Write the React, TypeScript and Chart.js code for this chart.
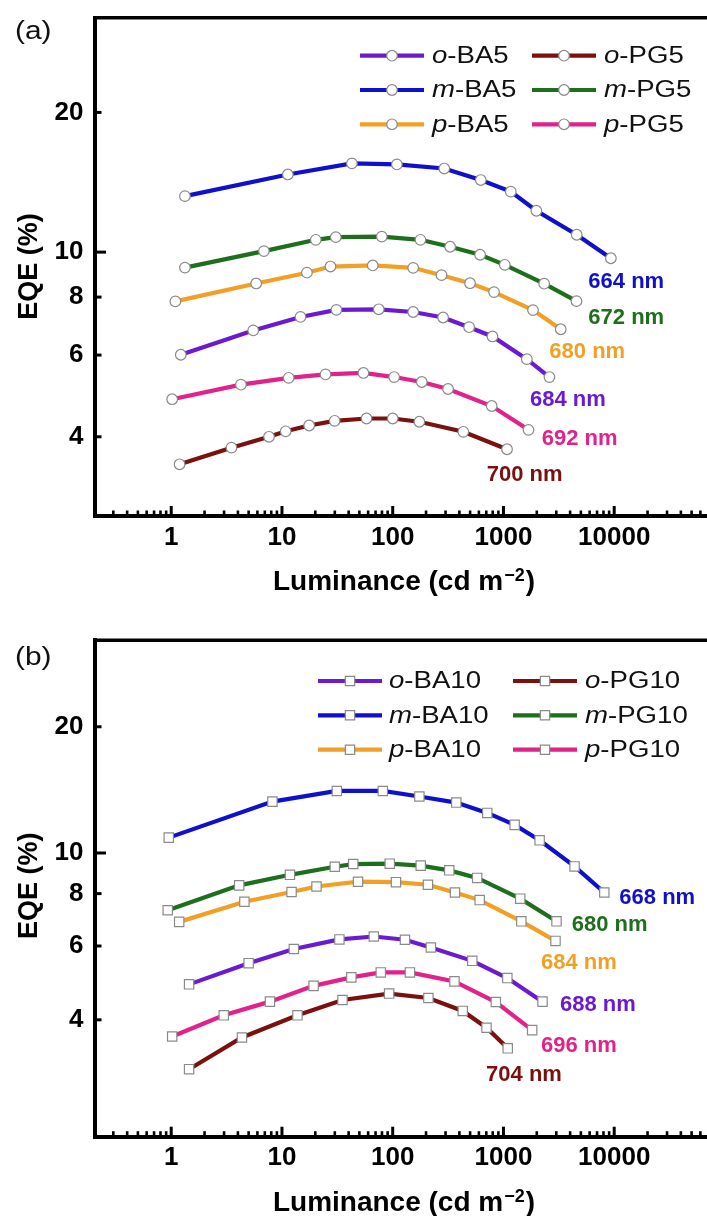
import React, { useEffect, useRef } from "react";
import { Chart, registerables } from "chart.js";

Chart.register(...registerables);

// ---------- tick values ----------
const X_TICK_VALUES = [1, 10, 100, 1000, 10000];
const Y_TICK_VALUES = [4, 6, 8, 10, 20];
const X_MINOR_MULTIPLES = [2, 3, 4, 5, 6, 7, 8, 9];
const X_MINOR_DECADES = [0.1, 1, 10, 100, 1000, 10000];

// ---------- panel (a) data: luminance (cd m^-2) / EQE (%) ----------
const A_oBA5_L = [1.22, 5.5, 14.7, 31.0, 74.8, 153, 285, 490, 796, 1626, 2602];
const A_oBA5_E = [6.01, 6.78, 7.25, 7.51, 7.53, 7.43, 7.23, 6.89, 6.58, 5.88, 5.38];
const A_mBA5_L = [1.33, 11.3, 42.8, 109, 292, 624, 1164, 1982, 4585, 9330];
const A_mBA5_E = [13.2, 14.7, 15.53, 15.45, 15.14, 14.3, 13.5, 12.28, 10.9, 9.7];
const A_pBA5_L = [1.09, 5.85, 16.8, 27.4, 66, 153, 276, 499, 822, 1849, 3289];
const A_pBA5_E = [7.83, 8.56, 9.03, 9.31, 9.36, 9.25, 8.92, 8.57, 8.2, 7.5, 6.82];
const A_oPG5_L = [1.19, 3.5, 7.64, 10.8, 17.6, 29.9, 58, 100, 174, 434, 1077];
const A_oPG5_E = [3.49, 3.79, 4.0, 4.11, 4.23, 4.33, 4.38, 4.38, 4.31, 4.1, 3.76];
const A_mPG5_L = [1.33, 6.87, 20.2, 30.6, 79.7, 178, 330, 615, 1028, 2330, 4565];
const A_mPG5_E = [9.26, 10.05, 10.63, 10.77, 10.8, 10.63, 10.27, 9.87, 9.39, 8.55, 7.84];
const A_pPG5_L = [1.02, 4.26, 11.5, 24.7, 54.4, 103, 183, 316, 783, 1683];
const A_pPG5_E = [4.82, 5.18, 5.36, 5.45, 5.49, 5.38, 5.25, 5.07, 4.66, 4.14];

const A_NAMES = ["o-BA5", "m-BA5", "p-BA5", "o-PG5", "m-PG5", "p-PG5"];
const A_WAVELENGTHS = ["684 nm", "664 nm", "680 nm", "700 nm", "672 nm", "692 nm"];
const A_WL_LUM = [1738, 5840, 2596, 707, 5840, 2218];
const A_WL_EQE = [4.8, 8.62, 6.09, 3.31, 7.21, 3.96];

// ---------- panel (b) data ----------
const B_oBA10_L = [1.45, 5.0, 12.8, 33, 67.5, 129, 221, 523, 1084, 2253];
const B_oBA10_E = [4.86, 5.46, 5.9, 6.22, 6.32, 6.21, 5.95, 5.53, 5.03, 4.42];
const B_mBA10_L = [0.95, 8.2, 31.3, 81.4, 174, 375, 714, 1262, 2121, 4386, 8140];
const B_mBA10_E = [10.88, 13.26, 14.06, 14.06, 13.64, 13.19, 12.46, 11.67, 10.72, 9.29, 8.05];
const B_pBA10_L = [1.18, 4.58, 12.2, 20.5, 48.6, 107, 208, 365, 610, 1450, 2950];
const B_pBA10_E = [6.85, 7.65, 8.07, 8.32, 8.54, 8.52, 8.4, 8.05, 7.72, 6.87, 6.17];
const B_oPG10_L = [1.45, 4.35, 13.8, 35.2, 92.8, 210, 429, 703, 1093];
const B_oPG10_E = [3.05, 3.63, 4.1, 4.46, 4.62, 4.51, 4.2, 3.83, 3.42];
const B_mPG10_L = [0.93, 4.11, 11.8, 30, 44, 94, 179, 324, 579, 1417, 3013];
const B_mPG10_E = [7.3, 8.37, 8.87, 9.27, 9.41, 9.43, 9.33, 9.09, 8.72, 7.78, 6.87];
const B_pPG10_L = [1.02, 2.98, 7.79, 19.3, 42.3, 78, 143, 361, 853, 1816];
const B_pPG10_E = [3.65, 4.1, 4.42, 4.82, 5.05, 5.19, 5.19, 4.94, 4.41, 3.78];

const B_NAMES = ["o-BA10", "m-BA10", "p-BA10", "o-PG10", "m-PG10", "p-PG10"];
const B_WAVELENGTHS = ["688 nm", "668 nm", "684 nm", "704 nm", "680 nm", "696 nm"];
const B_WL_LUM = [3243, 11120, 2184, 697, 4132, 2184];
const B_WL_EQE = [4.33, 7.83, 5.48, 2.95, 6.72, 3.47];

// ---------- styles ----------
const SERIES_COLORS = ["#6A1BCF", "#1010CC", "#F2A025", "#7A1010", "#1E6E1E", "#E2218B"];
const FONT = "'Liberation Sans', Arial, Helvetica, sans-serif";

type PanelCfg = {
  letter: string;
  names: string[];
  lums: number[][];
  eqes: number[][];
  wl: string[];
  wlLum: number[];
  wlEqe: number[];
  pointStyle: "circle" | "rect";
  pointRadius: number;
  padTop: number;
  xAxisH: number;
  yMin: number;
  yMax: number;
  legendRows: number[];
  legendCols: { x0: number; x1: number; tx: number }[];
  letterY: number;
  yTitleY: number;
  xTitleBase: number;
};

const PANEL_A: PanelCfg = {
  letter: "(a)",
  names: A_NAMES,
  lums: [A_oBA5_L, A_mBA5_L, A_pBA5_L, A_oPG5_L, A_mPG5_L, A_pPG5_L],
  eqes: [A_oBA5_E, A_mBA5_E, A_pBA5_E, A_oPG5_E, A_mPG5_E, A_pPG5_E],
  wl: A_WAVELENGTHS,
  wlLum: A_WL_LUM,
  wlEqe: A_WL_EQE,
  pointStyle: "circle",
  pointRadius: 5.3,
  padTop: 17.7,
  xAxisH: 92,
  yMin: 2.7,
  yMax: 32,
  legendRows: [55.7, 90, 124.3],
  legendCols: [
    { x0: 360, x1: 424, tx: 432 },
    { x0: 532, x1: 596, tx: 604 },
  ],
  letterY: 31.7,
  yTitleY: 266.5,
  xTitleBase: 590,
};

const PANEL_B: PanelCfg = {
  letter: "(b)",
  names: B_NAMES,
  lums: [B_oBA10_L, B_mBA10_L, B_pBA10_L, B_oPG10_L, B_mPG10_L, B_pPG10_L],
  eqes: [B_oBA10_E, B_mBA10_E, B_pBA10_E, B_oPG10_E, B_mPG10_E, B_pPG10_E],
  wl: B_WAVELENGTHS,
  wlLum: B_WL_LUM,
  wlEqe: B_WL_EQE,
  pointStyle: "rect",
  pointRadius: 6.6,
  padTop: 32.3,
  xAxisH: 79.3,
  yMin: 2.105,
  yMax: 32.16,
  legendRows: [73, 107.3, 141.7],
  legendCols: [
    { x0: 318, x1: 382, tx: 389 },
    { x0: 513, x1: 577, tx: 585 },
  ],
  letterY: 50,
  yTitleY: 277.8,
  xTitleBase: 602.7,
};

const CANVAS_W = 707;
const CANVAS_H = 608;
const AXIS_LEFT = 95;

function drawStretched(ctx: CanvasRenderingContext2D, parts: { t: string; f: string }[], x: number, y: number, sx: number) {
  ctx.save();
  ctx.translate(x, y);
  ctx.scale(sx, 1);
  let cx = 0;
  for (const p of parts) {
    ctx.font = p.f;
    ctx.fillText(p.t, cx, 0);
    cx += ctx.measureText(p.t).width;
  }
  ctx.restore();
}

function drawMarker(ctx: CanvasRenderingContext2D, style: string, x: number, y: number, r: number) {
  ctx.beginPath();
  if (style === "circle") {
    ctx.arc(x, y, r, 0, Math.PI * 2);
  } else {
    const s = r * Math.SQRT1_2;
    ctx.rect(x - s, y - s, 2 * s, 2 * s);
  }
  ctx.fillStyle = "#ffffff";
  ctx.fill();
  ctx.lineWidth = 1.2;
  ctx.strokeStyle = "#8a8a8a";
  ctx.stroke();
}

function decorPlugin(cfg: PanelCfg) {
  return {
    id: "decor",
    afterDraw(chart: any) {
      const ctx: CanvasRenderingContext2D = chart.ctx;
      const { left, right, top, bottom } = chart.chartArea;
      const xs = chart.scales.x;
      const ys = chart.scales.y;
      ctx.save();
      // top frame line
      ctx.strokeStyle = "#000";
      ctx.lineWidth = 3.5;
      ctx.beginPath();
      ctx.moveTo(left - 2, top);
      ctx.lineTo(right, top);
      ctx.stroke();
      // inward x ticks
      ctx.lineWidth = 2.6;
      for (const d of X_MINOR_DECADES) {
        for (const m of X_MINOR_MULTIPLES) {
          const px = xs.getPixelForValue(d * m);
          if (px < left + 2 || px > right) continue;
          ctx.beginPath();
          ctx.moveTo(px, bottom);
          ctx.lineTo(px, bottom - 5.5);
          ctx.stroke();
        }
      }
      ctx.lineWidth = 3;
      for (const v of X_TICK_VALUES) {
        const px = xs.getPixelForValue(v);
        ctx.beginPath();
        ctx.moveTo(px, bottom);
        ctx.lineTo(px, bottom - 10);
        ctx.stroke();
      }
      // inward y ticks
      for (const v of Y_TICK_VALUES) {
        const py = ys.getPixelForValue(v);
        const len = v === 10 ? 11 : 6.5;
        ctx.beginPath();
        ctx.moveTo(left, py);
        ctx.lineTo(left + len, py);
        ctx.stroke();
      }
      // legend
      ctx.textBaseline = "middle";
      ctx.textAlign = "left";
      cfg.names.forEach((name, i) => {
        const col = cfg.legendCols[Math.floor(i / 3)];
        const y = cfg.legendRows[i % 3];
        ctx.strokeStyle = SERIES_COLORS[i];
        ctx.lineWidth = 4.2;
        ctx.beginPath();
        ctx.moveTo(col.x0, y);
        ctx.lineTo(col.x1, y);
        ctx.stroke();
        drawMarker(ctx, cfg.pointStyle, (col.x0 + col.x1) / 2, y, cfg.pointRadius);
        const k = name.indexOf("-");
        ctx.fillStyle = "#111";
        drawStretched(
          ctx,
          [
            { t: name.slice(0, k), f: `italic 23px ${FONT}` },
            { t: name.slice(k), f: `23px ${FONT}` },
          ],
          col.tx,
          y + 1,
          1.2
        );
      });
      // wavelength labels
      ctx.font = `bold 22px ${FONT}`;
      cfg.wl.forEach((t, i) => {
        ctx.fillStyle = SERIES_COLORS[i];
        ctx.fillText(t, xs.getPixelForValue(cfg.wlLum[i]), ys.getPixelForValue(cfg.wlEqe[i]));
      });
      // panel letter
      ctx.fillStyle = "#111";
      drawStretched(ctx, [{ t: cfg.letter, f: `26px ${FONT}` }], 15, cfg.letterY, 1.15);
      // y title
      ctx.save();
      ctx.translate(30, cfg.yTitleY);
      ctx.rotate(-Math.PI / 2);
      ctx.textAlign = "center";
      ctx.font = `bold 27px ${FONT}`;
      ctx.fillStyle = "#000";
      ctx.fillText("EQE (%)", 0, 0);
      ctx.restore();
      // x title with superscript
      ctx.textBaseline = "alphabetic";
      ctx.textAlign = "left";
      ctx.fillStyle = "#000";
      const mainF = `bold 28px ${FONT}`;
      const supF = `bold 18px ${FONT}`;
      ctx.font = mainF;
      const t1 = "Luminance (cd m";
      const w1 = ctx.measureText(t1).width;
      const w3 = ctx.measureText(")").width;
      ctx.font = supF;
      const w2 = ctx.measureText("\u22122").width;
      const x0 = 403 - (w1 + w2 + w3) / 2;
      ctx.font = mainF;
      ctx.fillText(t1, x0, cfg.xTitleBase);
      ctx.font = supF;
      ctx.fillText("\u22122", x0 + w1 + 1, cfg.xTitleBase - 9);
      ctx.font = mainF;
      ctx.fillText(")", x0 + w1 + w2 + 2, cfg.xTitleBase);
      ctx.restore();
    },
  };
}

function buildConfig(cfg: PanelCfg): any {
  const tickFont = { family: FONT, size: 26, weight: "bold" as const };
  return {
    type: "line",
    data: {
      datasets: cfg.names.map((name, i) => ({
        label: name,
        data: cfg.lums[i].map((x, j) => ({ x, y: cfg.eqes[i][j] })),
        borderColor: SERIES_COLORS[i],
        backgroundColor: "#ffffff",
        borderWidth: 4.2,
        tension: 0,
        fill: false,
        pointStyle: cfg.pointStyle,
        pointRadius: cfg.pointRadius,
        pointBackgroundColor: "#ffffff",
        pointBorderColor: "#8a8a8a",
        pointBorderWidth: 1.2,
      })),
    },
    options: {
      animation: false,
      responsive: false,
      devicePixelRatio: 1,
      events: [],
      layout: { autoPadding: false, padding: { top: cfg.padTop, left: 0, right: 0, bottom: 0 } },
      plugins: {
        legend: { display: false },
        tooltip: { enabled: false },
        title: { display: false },
      },
      scales: {
        x: {
          type: "logarithmic",
          min: 0.205,
          max: 68850,
          afterBuildTicks: (s: any) => {
            s.ticks = X_TICK_VALUES.map((v) => ({ value: v }));
          },
          afterFit: (s: any) => {
            s.height = cfg.xAxisH;
            s.paddingLeft = 0;
            s.paddingRight = 0;
          },
          ticks: {
            callback: (v: any) => String(v),
            font: tickFont,
            color: "#000",
            padding: 6,
            maxRotation: 0,
            minRotation: 0,
            autoSkip: false,
          },
          grid: { display: false, drawTicks: false },
          border: { display: true, color: "#000", width: 4 },
        },
        y: {
          type: "logarithmic",
          min: cfg.yMin,
          max: cfg.yMax,
          afterBuildTicks: (s: any) => {
            s.ticks = Y_TICK_VALUES.map((v) => ({ value: v }));
          },
          afterFit: (s: any) => {
            s.width = AXIS_LEFT;
            s.paddingTop = 0;
            s.paddingBottom = 0;
          },
          ticks: {
            callback: (v: any) => String(v),
            font: tickFont,
            color: "#000",
            padding: 11.5,
            autoSkip: false,
          },
          grid: { display: false, drawTicks: false },
          border: { display: true, color: "#000", width: 4 },
        },
      },
    },
    plugins: [decorPlugin(cfg)],
  };
}

function Panel({ cfg }: { cfg: PanelCfg }) {
  const ref = useRef<HTMLCanvasElement>(null);
  useEffect(() => {
    if (!ref.current) return;
    const chart = new Chart(ref.current, buildConfig(cfg));
    return () => chart.destroy();
  }, [cfg]);
  return (
    <canvas
      ref={ref}
      width={CANVAS_W}
      height={CANVAS_H}
      style={{ display: "block", width: CANVAS_W, height: CANVAS_H }}
    />
  );
}

export default function App() {
  return (
    <div
      style={{
        position: "absolute",
        left: 0,
        top: 0,
        width: CANVAS_W,
        height: CANVAS_H * 2,
        overflow: "hidden",
        background: "#ffffff",
      }}
    >
      <Panel cfg={PANEL_A} />
      <Panel cfg={PANEL_B} />
    </div>
  );
}
